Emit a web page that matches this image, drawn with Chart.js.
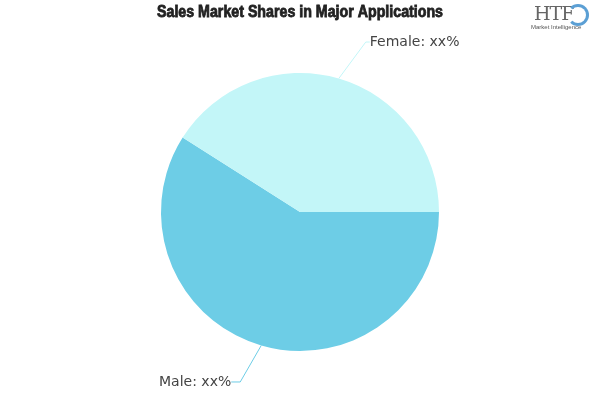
<!DOCTYPE html>
<html>
<head>
<meta charset="utf-8">
<script src="https://cdn.jsdelivr.net/npm/chart.js@4"></script>
<style>
  html, body { margin: 0; padding: 0; background: #fff; }
  #wrap { position: relative; width: 600px; height: 400px; }
  #logo { position: absolute; left: 530px; top: 2px; width: 70px; height: 36px; font-family: "DejaVu Serif", serif; color: #666; }
  #logo .big { position: absolute; left: 4px; top: 0px; font-size: 19px; letter-spacing: -1px; }
  #logo .small { position: absolute; left: 1px; top: 22px; font-size: 6px; font-family: "Liberation Sans", sans-serif; color: #555; }
  #logo .swirl { position: absolute; left: 37px; top: 2px; width: 16px; height: 16px; border-radius: 50%; border: 3px solid #5b9fd4; border-left-color: transparent; }
</style>
</head>
<body>
<div id="wrap">
  <canvas id="pieChart" width="600" height="400"></canvas>
  <div id="logo"><span class="big">HTF</span><span class="swirl"></span><span class="small">Market Intelligence</span></div>
</div>
<script>
// Chart data
const categories = ['Male', 'Female'];
const shares = [59, 41];
const labelTexts = ['Male: xx%', 'Female: xx%'];
const colors = ['#6dcde6', '#c3f6f8'];
const titleText = 'Sales Market Shares in Major Applications';

// Draw title and the pie labels with leader lines
const labelPlugin = {
    id: 'pieLabels',
    afterDraw(chart) {
        const c = chart.ctx;
        c.save();
        // condensed heavy title
        c.font = 'bold 16px "Liberation Sans", sans-serif';
        const w = c.measureText(titleText).width;
        c.translate(300, 13);
        c.scale(286 / w, 1);
        c.fillStyle = '#222';
        c.strokeStyle = '#222';
        c.lineWidth = 0.8;
        c.textAlign = 'center';
        c.textBaseline = 'middle';
        c.fillText(titleText, 0, 0);
        c.strokeText(titleText, 0, 0);
        c.restore();

        c.save();
        const meta = chart.getDatasetMeta(0);
        c.font = '14px "DejaVu Sans", sans-serif';
        c.fillStyle = '#444';
        c.textBaseline = 'middle';
        meta.data.forEach((arc, i) => {
            const a = (arc.startAngle + arc.endAngle) / 2;
            const r = arc.outerRadius;
            const ex = arc.x + Math.cos(a) * r;
            const ey = arc.y + Math.sin(a) * r;
            const right = Math.cos(a) >= 0;
            const ly = arc.y + Math.sin(a) * (r + 38);
            const bx = ex + (right ? 27 : -21);
            c.strokeStyle = colors[i];
            c.lineWidth = 1;
            c.beginPath();
            c.moveTo(ex, ey);
            c.lineTo(bx, ly);
            c.lineTo(bx + (right ? 4 : -9), ly);
            c.stroke();
            c.textAlign = right ? 'left' : 'right';
            c.fillText(labelTexts[i], bx + (right ? 4 : -9), ly);
        });
        c.restore();
    }
};

const ctx = document.getElementById('pieChart').getContext('2d');
new Chart(ctx, {
    type: 'pie',
    data: {
        labels: categories,
        datasets: [{
            data: shares,
            backgroundColor: colors,
            borderWidth: 0
        }]
    },
    options: {
        responsive: false,
        animation: false,
        rotation: 90,
        layout: {
            padding: { top: 73, bottom: 49, left: 161, right: 161 }
        },
        plugins: {
            legend: { display: false },
            tooltip: { enabled: false }
        }
    },
    plugins: [labelPlugin]
});
</script>
</body>
</html>
